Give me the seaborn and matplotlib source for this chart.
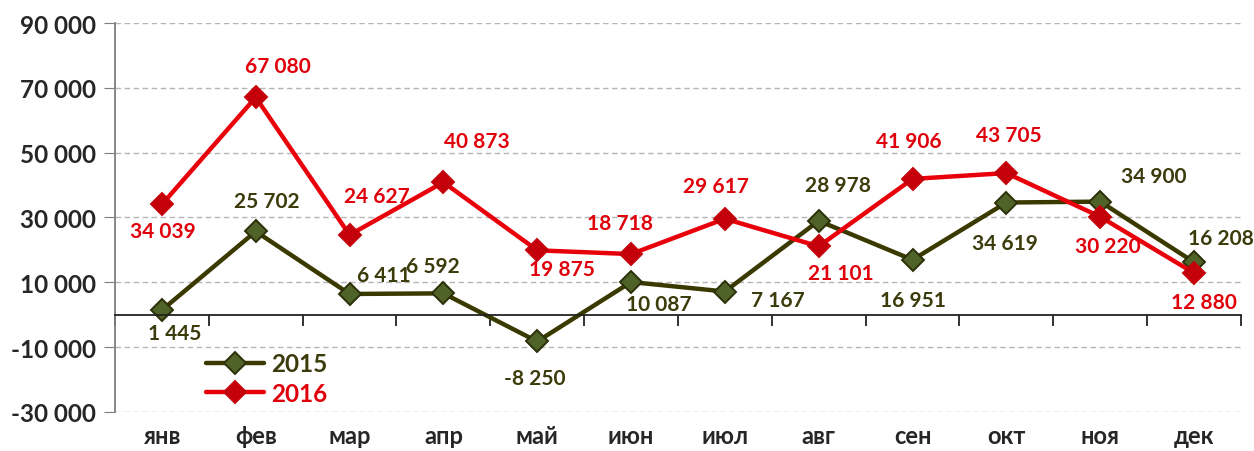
import pandas as pd
import matplotlib
matplotlib.use("Agg")
import matplotlib.pyplot as plt
import seaborn as sns

# Данные
months = ["янв", "фев", "мар", "апр", "май", "июн", "июл", "авг", "сен", "окт", "ноя", "дек"]
vals_2015 = [1445, 25702, 6411, 6592, -8250, 10087, 7167, 28978, 16951, 34619, 34900, 16208]
vals_2016 = [34039, 67080, 24627, 40873, 19875, 18718, 29617, 21101, 41906, 43705, 30220, 12880]
y_ticks = [-30000, -10000, 10000, 30000, 50000, 70000, 90000]

# смещения подписей (пиксели)
off_2015 = [(13, -23), (11, 30), (34, 19), (-11, 27), (-2, -37), (28, -22),
            (53, -8), (19, 36), (0, -40), (-1, -40), (54, 26), (27, 24)]
off_2016 = [(1, -27), (22, 31), (27, 39), (33, 41), (25, -19), (-11, 31),
            (-9, 33), (22, -27), (-4, 38), (2, 38), (8, -29), (10, -29)]

df = pd.DataFrame({
    "m": list(range(12)) * 2,
    "v": vals_2015 + vals_2016,
    "year": ["2015"] * 12 + ["2016"] * 12,
})

sns.set_style("white")
plt.rcParams["font.family"] = ["Lato", "Open Sans", "DejaVu Sans"]
W = "bold"

c15_line, c15_face, c15_text = "#3a3a00", "#4f6228", "#3b3b0c"
c16_line, c16_face, c16_text = "#e8000b", "#c4000a", "#e0000b"

fig = plt.figure(figsize=(12.54, 4.52), dpi=100)
ax = fig.add_axes([0.0917, 0.0863, 0.8979, 0.8606])

sns.lineplot(data=df, x="m", y="v", hue="year", palette=[c15_line, c16_line],
             linewidth=3.2, marker="D", markersize=11, ax=ax, legend=False)

# цвет маркеров
for line, face, edge in zip(ax.lines, [c15_face, c16_face], ["#2c3008", "#c4000a"]):
    line.set_markerfacecolor(face)
    line.set_markeredgecolor(edge)
    line.set_markeredgewidth(1.4)

ax.set_xlim(-0.5, 11.5)
ax.set_ylim(-30000, 90000)
ax.set_yticks(y_ticks)
ax.set_yticklabels([f"{t:,}".replace(",", " ") for t in y_ticks], fontsize=17.5, fontweight=W)
ax.yaxis.grid(True, linestyle=(0, (4, 2.5)), color="#b5b5b5", linewidth=1)
ax.tick_params(axis="y", direction="out", length=8, color="#7f7f7f", left=True, pad=6)
ax.set_xlabel("")
ax.set_ylabel("")

for s in ["top", "right"]:
    ax.spines[s].set_visible(False)
ax.spines["left"].set_color("#7f7f7f")
ax.spines["left"].set_linewidth(1.3)
ax.spines["bottom"].set_position(("data", 0))
ax.spines["bottom"].set_color("#222222")
ax.spines["bottom"].set_linewidth(1.3)
ax.set_xticks([i + 0.5 for i in range(-1, 12)])
ax.set_xticklabels([])
ax.tick_params(axis="x", direction="out", length=8, color="#222222", bottom=True, width=1.3)

sec = ax.secondary_xaxis("bottom")
sec.set_xticks(range(12))
sec.set_xticklabels(months, fontsize=17, fontweight="bold")
sec.tick_params(length=0, pad=9)
sec.spines["bottom"].set_visible(False)

for i in range(12):
    ax.annotate(f"{vals_2015[i]:,}".replace(",", " "), (i, vals_2015[i]),
                xytext=off_2015[i], textcoords="offset pixels", ha="center", va="center",
                fontsize=15, fontweight=W, color=c15_text)
    ax.annotate(f"{vals_2016[i]:,}".replace(",", " "), (i, vals_2016[i]),
                xytext=off_2016[i], textcoords="offset pixels", ha="center", va="center",
                fontsize=15, fontweight=W, color=c16_text)

leg = ax.legend(ax.lines[:2], ["2015", "2016"], loc="upper left", bbox_to_anchor=(0.072, 0.178),
                frameon=False, fontsize=17.5, handlelength=2.4, handletextpad=0.3,
                labelspacing=0.25, borderaxespad=0)
for t, c in zip(leg.get_texts(), [c15_text, c16_text]):
    t.set_color(c)
    t.set_fontweight(W)

fig.savefig("out.png", dpi=100)
